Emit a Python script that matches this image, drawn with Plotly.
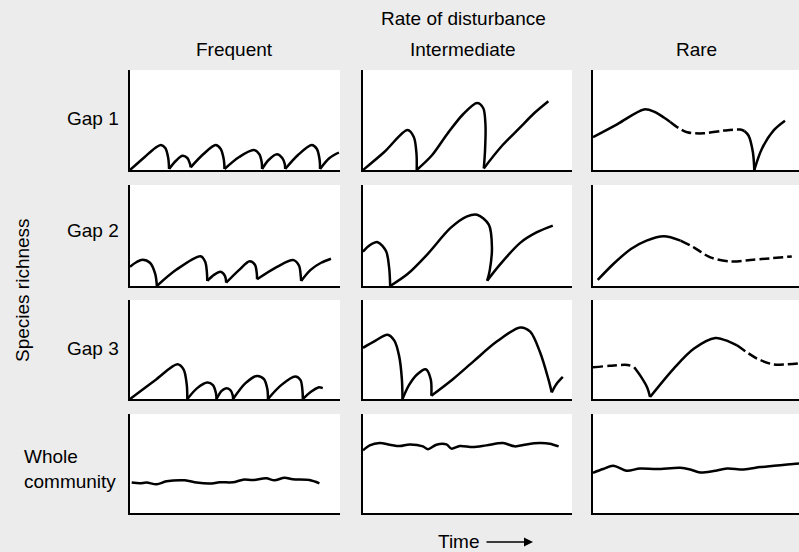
import plotly.graph_objects as go

N = None

# ---------------- data (x: time 0-100, y: species richness 0-100) ----------------
# Frequent disturbance
FREQ_GAP1_X = [0, 7, 12, 14.7, 16.8, 18.2, 18.6, N,
               18.6, 22, 25, 27.3, 28.6, 28.9, N,
               28.9, 35, 40.8, 43.2, 44.7, 45, N,
               45, 52, 58.9, 61.5, 62.7, 62.9, N,
               62.9, 66, 70, 72.5, 73.7, 73.9, N,
               73.9, 80, 86.6, 89, 90.3, 90.5, N,
               90.5, 95, 99.5]
FREQ_GAP1_Y = [0, 13, 22, 25, 22, 12, 1, N,
               1, 9.5, 14.2, 12, 6, 2.7, N,
               2.7, 16, 25, 21, 10, 1, N,
               1, 13, 20, 16, 8, 1, N,
               1, 10, 15.8, 12, 6, 1, N,
               1, 15, 25, 21, 10, 1, N,
               1, 12, 17.5]

FREQ_GAP2_X = [0, 3, 6, 9.5, 12, 12.8, N,
               12.8, 22, 33.6, 35.8, 36.6, 36.8, N,
               36.8, 40, 43.1, 45.2, 45.8, N,
               45.8, 52, 57, 59.5, 60.4, 60.5, N,
               60.5, 70, 77.9, 80.5, 81.3, 81.5, N,
               81.5, 86, 91, 95.7]
FREQ_GAP2_Y = [19, 23.5, 26, 23, 12, 0, N,
               0, 16, 29.5, 24, 14, 5, N,
               5, 11, 14, 10, 3.3, N,
               3.3, 16, 24.6, 21, 12, 6.6, N,
               6.6, 19, 25.6, 20, 10, 5, N,
               5, 16, 23, 27]

FREQ_GAP3_X = [0, 12, 22.6, 25.5, 27, 27.3, N,
               27.3, 32, 36.8, 39.5, 40.9, 41.2, N,
               41.2, 43.5, 45.5, 47.8, 48.9, 49.1, N,
               49.1, 55, 60.5, 63.8, 65.4, 65.7, N,
               65.7, 72, 78.7, 81.2, 82.1, 82.3, N,
               82.3, 86, 89.7, 91.8]
FREQ_GAP3_Y = [0, 19, 35, 30, 15, 0, N,
               0, 11, 16.7, 14, 6, 0, N,
               0, 8, 10.7, 9, 4, 0, N,
               0, 16, 23.3, 20, 10, 0, N,
               0, 14, 22.7, 19, 9, 0, N,
               0, 7, 11.7, 11]

FREQ_WHOLE_X = [0.8, 4.7, 7.9, 12.7, 17.4, 26.1, 31.7, 38, 42.7, 49, 53.8,
                58.5, 64.9, 68.8, 73.6, 77.5, 85.4, 90.2]
FREQ_WHOLE_Y = [30.7, 30, 30.7, 29, 32, 33, 30.7, 29.7, 31, 31, 33.7,
                33.3, 35, 33, 35.7, 34, 33.3, 30]

# Intermediate disturbance
INTER_GAP1_X = [0, 10.2, 21.3, 24.3, 25.6, 25.7, N,
                25.7, 33, 40.3, 48, 54.6, 57.5, 58.6, 58.4, 57.8, N,
                57.8, 66, 75.2, 82, 88.7]
INTER_GAP1_Y = [0, 18, 40, 33, 16, 0, N,
                0, 14.7, 36, 56, 67, 62, 45, 20, 1.6, N,
                1.6, 23, 42.6, 57, 68.8]

INTER_GAP2_X = [0, 3, 7, 11, 12.5, 13, N,
                13, 21.3, 30.8, 41.9, 49.8, 54.6, 60.2, 61.7, 60.6, 59.4, N,
                59.4, 65.7, 75.2, 83, 90.8]
INTER_GAP2_Y = [34, 40, 43.4, 34.6, 18.2, 0, N,
                0, 11.8, 31.4, 57.5, 69, 70.6, 60.8, 37.8, 15, 5.2, N,
                5.2, 21.6, 42.7, 53, 59.8]

INTER_GAP3_X = [0, 6, 11.7, 15, 17.3, 18.6, 18.9, N,
                18.9, 22, 26, 30, 32.4, 32.7, N,
                32.7, 43, 53, 64, 75.2, 80, 84.8, 88.7, 90.3, N,
                90.3, 92.5, 95.6]
INTER_GAP3_Y = [51.7, 59, 65, 59, 43.3, 20, 0, N,
                0, 14, 25, 30, 20, 3.3, N,
                3.3, 20, 38.3, 58, 72.3, 68, 46.7, 20, 6.7, N,
                6.7, 15, 22.3]

INTER_WHOLE_X = [0, 3.2, 8, 12.8, 17.6, 22.3, 28.7, 31.1, 35.1, 39.9, 42.3,
                 46.3, 52.6, 59, 67, 72.6, 78.2, 84.5, 89.3, 93.6]
INTER_WHOLE_Y = [63.3, 68.3, 70.6, 69, 67.6, 69.3, 67.3, 64.3, 69, 69.3, 65,
                 67.6, 66.6, 68.3, 70.6, 67.3, 69.3, 70.6, 70, 67.3]

# Rare disturbance (solid = observed, dashed = slow competitive decline)
RARE_GAP1_SOLID_X = [0, 11.9, 24.8, 30, 34.4, 37.5, N,
                     73.5, 75.5, 77.6, 78.3, N,
                     78.3, 82, 87.6, 93.2]
RARE_GAP1_SOLID_Y = [32.8, 45.9, 60.6, 58, 52.5, 48, N,
                     39, 34.4, 18, 0, N,
                     0, 21.3, 39.4, 49.2]
RARE_GAP1_DASH_X = [37.5, 41.5, 45.7, 53.8, 63.4, 71.5, 73.5]
RARE_GAP1_DASH_Y = [48, 42, 37.7, 36.7, 39.4, 40.4, 39]

RARE_GAP2_SOLID_X = [2.3, 10, 18.4, 26, 34.4, 42.5]
RARE_GAP2_SOLID_Y = [6, 22, 36.7, 45, 49.3, 45]
RARE_GAP2_DASH_X = [42.5, 48.9, 57, 66.7, 77.9, 96.5]
RARE_GAP2_DASH_Y = [45, 38.3, 28.3, 24.3, 26, 29.3]

RARE_GAP3_SOLID_X = [20, 23.2, 26.4, 27.7, N,
                     27.7, 39.3, 48.9, 59.4, 66, 69.9]
RARE_GAP3_SOLID_Y = [32, 22.8, 11.2, 2, N,
                     2, 31, 50.8, 61.7, 58, 54.2]
RARE_GAP3_DASH_X = [0, 8, 16.8, 20, N, 69.9, 79.6, 87.6, 100]
RARE_GAP3_DASH_Y = [32, 33.5, 34.4, 32, N, 54.2, 40.9, 35, 36]

RARE_WHOLE_X = [0, 4.9, 9.8, 16.3, 22.8, 30.9, 42.3, 47.2, 52, 58.5, 65.1,
                73.2, 81.3, 87.8, 94.3, 100]
RARE_WHOLE_Y = [40.7, 44.4, 47.7, 42.7, 45, 44.4, 45.7, 44, 41, 42.4, 45,
                44, 46.4, 47.7, 49, 50]

COLUMN_TITLES = ["Frequent", "Intermediate", "Rare"]
ROW_LABELS = ["Gap 1", "Gap 2", "Gap 3", "Whole<br>community"]

# ---------------- layout geometry ----------------
COL_DOM = [(130 / 799, 340 / 799), (363 / 799, 572 / 799), (593 / 799, 1.0)]
ROW_DOM = [(1 - 170 / 552, 1 - 70 / 552), (1 - 286 / 552, 1 - 185 / 552),
           (1 - 399 / 552, 1 - 300 / 552), (1 - 513 / 552, 1 - 414 / 552)]

SERIES = [
    (0, 0, FREQ_GAP1_X, FREQ_GAP1_Y, "solid"),
    (1, 0, FREQ_GAP2_X, FREQ_GAP2_Y, "solid"),
    (2, 0, FREQ_GAP3_X, FREQ_GAP3_Y, "solid"),
    (3, 0, FREQ_WHOLE_X, FREQ_WHOLE_Y, "solid"),
    (0, 1, INTER_GAP1_X, INTER_GAP1_Y, "solid"),
    (1, 1, INTER_GAP2_X, INTER_GAP2_Y, "solid"),
    (2, 1, INTER_GAP3_X, INTER_GAP3_Y, "solid"),
    (3, 1, INTER_WHOLE_X, INTER_WHOLE_Y, "solid"),
    (0, 2, RARE_GAP1_SOLID_X, RARE_GAP1_SOLID_Y, "solid"),
    (0, 2, RARE_GAP1_DASH_X, RARE_GAP1_DASH_Y, "10px,4px"),
    (1, 2, RARE_GAP2_SOLID_X, RARE_GAP2_SOLID_Y, "solid"),
    (1, 2, RARE_GAP2_DASH_X, RARE_GAP2_DASH_Y, "10px,4px"),
    (2, 2, RARE_GAP3_SOLID_X, RARE_GAP3_SOLID_Y, "solid"),
    (2, 2, RARE_GAP3_DASH_X, RARE_GAP3_DASH_Y, "10px,4px"),
    (3, 2, RARE_WHOLE_X, RARE_WHOLE_Y, "solid"),
]

fig = go.Figure()
layout = {}
for r in range(4):
    for c in range(3):
        idx = r * 3 + c + 1
        sfx = "" if idx == 1 else str(idx)
        ax_common = dict(showline=True, linecolor="black", linewidth=2,
                         showgrid=False, zeroline=False, showticklabels=False,
                         ticks="", fixedrange=True)
        layout["xaxis" + sfx] = dict(domain=list(COL_DOM[c]), range=[0, 100],
                                     anchor="y" + sfx, **ax_common)
        layout["yaxis" + sfx] = dict(domain=list(ROW_DOM[r]), range=[0, 100],
                                     anchor="x" + sfx, **ax_common)

for r, c, xs, ys, dash in SERIES:
    idx = r * 3 + c + 1
    sfx = "" if idx == 1 else str(idx)
    fig.add_trace(go.Scatter(
        x=xs, y=ys, mode="lines", xaxis="x" + sfx, yaxis="y" + sfx,
        line=dict(color="black", width=2.5, shape="spline", smoothing=0.9,
                  dash=dash),
        connectgaps=False, hoverinfo="skip", showlegend=False))

FONT = dict(family="Liberation Sans, Arial, sans-serif", size=19, color="black")
ann = []
ann.append(dict(text="Rate of disturbance", x=463 / 799, y=1 - 18 / 552,
                xref="paper", yref="paper", showarrow=False, font=FONT,
                xanchor="center", yanchor="middle"))
for title, xc in zip(COLUMN_TITLES, [234, 463, 696]):
    ann.append(dict(text=title, x=xc / 799, y=1 - 50 / 552, xref="paper",
                    yref="paper", showarrow=False, font=FONT,
                    xanchor="center", yanchor="middle"))
for lab, yc in zip(ROW_LABELS[:3], [119, 231, 348]):
    ann.append(dict(text=lab, x=121 / 799, y=1 - yc / 552, xref="paper",
                    yref="paper", showarrow=False, font=FONT,
                    xanchor="right", yanchor="middle"))
ann.append(dict(text=ROW_LABELS[3], x=22 / 799, y=1 - 469 / 552,
                xref="paper", yref="paper", showarrow=False, font=FONT,
                xanchor="left", yanchor="middle", align="left"))
ann.append(dict(text="Species richness", x=22 / 799, y=1 - 290 / 552,
                xref="paper", yref="paper", showarrow=False, font=FONT,
                textangle=-90, xanchor="center", yanchor="middle"))
ann.append(dict(text="Time", x=459 / 799, y=1 - 541 / 552, xref="paper",
                yref="paper", showarrow=False, font=FONT,
                xanchor="center", yanchor="middle"))
ann.append(dict(text="", x=533 / 799, y=1 - 542 / 552, xref="paper",
                yref="paper", showarrow=True, ax=-48, ay=0, arrowhead=2,
                arrowsize=1.2, arrowwidth=1.5, arrowcolor="black"))

fig.update_layout(width=799, height=552, margin=dict(l=0, r=0, t=0, b=0),
                  paper_bgcolor="#ececec", plot_bgcolor="white",
                  annotations=ann, **layout)

fig.write_html("out.html")
